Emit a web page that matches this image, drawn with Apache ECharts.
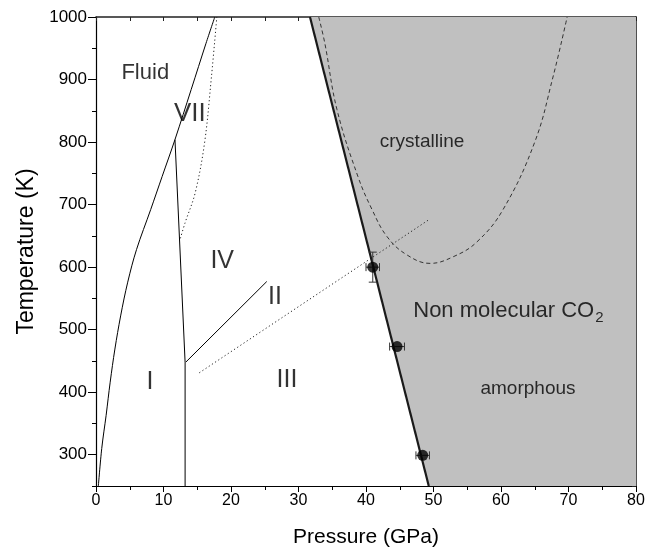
<!DOCTYPE html>
<html>
<head>
<meta charset="utf-8">
<script src="https://cdn.jsdelivr.net/npm/echarts@6/dist/echarts.min.js"></script>
<style>
  html, body { margin: 0; padding: 0; background: #fff; }
  #chart { width: 650px; height: 554px; }
</style>
</head>
<body>
<div id="chart"></div>
<script>
// phase boundaries, [pressure GPa, temperature K]
const meltingCurve = [[0.35, 250], [0.85, 310], [1.5, 363], [2.1, 416], [2.8, 469], [3.65, 522], [4.7, 576],
  [6.0, 628], [8.1, 692], [9.8, 745], [11.7, 804], [14.1, 884], [16.3, 958], [17.6, 1000]];
const lineIandIII = [[11.7, 804], [13.2, 448], [13.2, 250]];
const lineII = [[13.3, 448], [25.3, 577]];
const dottedIIIline = [[15.3, 431], [49.2, 675]];
const dottedVII = [[12.5, 646], [13.2, 671], [14.7, 719], [16.1, 800], [17.1, 904], [17.9, 1000]];
const nonMolecularBoundary = [[31.7, 1000], [49.3, 250]];
const crystallineDome = [[33.0, 1000], [33.9, 958], [35.7, 852], [38.8, 745], [40.9, 692], [43.1, 649],
  [46.0, 620], [49.5, 606], [53.0, 617], [56.4, 640], [60.3, 692], [65.0, 800], [67.7, 904], [69.8, 1000]];
// measured points: [P, T, P error, T error]
const measured = [[41.0, 600, 1.0, 24], [44.6, 473, 1.1, 0], [48.4, 299, 1.0, 0]];
// region labels
const regionLabels = [
  ['Fluid', 7.3, 910, 22],
  ['VII', 13.9, 845, 26],
  ['IV', 18.7, 609, 25],
  ['II', 26.5, 552, 25],
  ['I', 8.0, 416, 25],
  ['III', 28.3, 419, 25],
  ['crystalline', 48.3, 801, 19],
  ['amorphous', 64.0, 405, 19]
];
const yTicks = [300, 400, 500, 600, 700, 800, 900, 1000];

const FONT = '"Liberation Sans", Arial, Helvetica, sans-serif';
const chart = echarts.init(document.getElementById('chart'));

function line(data, width, type, color, smooth) {
  return {
    type: 'line', data: data, showSymbol: false, silent: true, z: 3,
    smooth: smooth || false,
    lineStyle: { color: color || '#000', width: width, type: type || 'solid' }
  };
}

const option = {
  animation: false,
  backgroundColor: '#fff',
  grid: { left: 96, right: 14, top: 17, bottom: 68 },
  xAxis: [
    {
      type: 'value', min: 0, max: 80, interval: 10, position: 'bottom',
      axisLine: { lineStyle: { color: '#000', width: 1.2 } },
      axisTick: { length: 6, lineStyle: { color: '#000' } },
      minorTick: { show: true, splitNumber: 2, length: 4, lineStyle: { color: '#000' } },
      splitLine: { show: false },
      axisLabel: { fontSize: 16, color: '#000', fontFamily: FONT, margin: 7 },
      name: 'Pressure (GPa)', nameLocation: 'middle', nameGap: 41,
      nameTextStyle: { fontSize: 21, color: '#000', fontFamily: FONT }
    },
    {
      type: 'value', min: 0, max: 80, interval: 5, position: 'top',
      axisLine: { lineStyle: { color: '#222', width: 1.6 } },
      axisTick: { inside: true, length: 4, lineStyle: { color: '#222' } },
      axisLabel: { show: false }, splitLine: { show: false }
    }
  ],
  yAxis: [
    {
      type: 'value', min: 250, max: 1000, position: 'left',
      axisLine: { lineStyle: { color: '#000', width: 1.2 } },
      axisTick: { length: 8, customValues: yTicks, lineStyle: { color: '#000' } },
      axisLabel: {
        fontSize: 17, color: '#000', fontFamily: FONT, margin: 9, customValues: yTicks,
        formatter: v => String(v)
      },
      splitLine: { show: false },
      name: 'Temperature (K)', nameLocation: 'middle', nameGap: 58, nameRotate: 90,
      nameTextStyle: { fontSize: 23, color: '#000', fontFamily: FONT }
    },
    {
      type: 'value', min: 250, max: 1000, interval: 50, position: 'left',
      axisLine: { show: false },
      axisTick: { length: 4, lineStyle: { color: '#000' } },
      axisLabel: { show: false }, splitLine: { show: false }
    },
    {
      type: 'value', min: 250, max: 1000, interval: 50, position: 'right',
      axisLine: { lineStyle: { color: '#222', width: 1.6 } },
      axisTick: { inside: true, length: 4, lineStyle: { color: '#222' } },
      axisLabel: { show: false }, splitLine: { show: false }
    }
  ],
  series: [
    {
      // grey non molecular region right of the boundary
      type: 'custom', silent: true, z: 1, clip: true,
      data: [0],
      renderItem: function (params, api) {
        const pts = [
          api.coord(nonMolecularBoundary[0]),
          api.coord(nonMolecularBoundary[1]),
          api.coord([80, 250]),
          api.coord([80, 1000])
        ];
        return { type: 'polygon', shape: { points: pts }, style: { fill: '#c0c0c0' } };
      }
    },
    line(meltingCurve, 1, 'solid', '#000', 0.35),
    line(lineIandIII, 1),
    line(lineII, 1),
    line(dottedIIIline, 1, [1.2, 2.6], '#222'),
    line(dottedVII, 1, [1.2, 2.6], '#222', 0.35),
    line(crystallineDome, 1, [4, 3], '#333', 0.4),
    line(nonMolecularBoundary, 2.2, 'solid', '#1a1a1a'),
    {
      // error bars
      type: 'custom', silent: true, z: 4,
      data: measured,
      renderItem: function (params, api) {
        const p = api.value(0), t = api.value(1), dp = api.value(2), dt = api.value(3);
        const a = api.coord([p - dp, t]), b = api.coord([p + dp, t]);
        const cap = 4;
        const st = { stroke: '#333', lineWidth: 1 };
        const kids = [
          { type: 'line', shape: { x1: a[0], y1: a[1], x2: b[0], y2: b[1] }, style: st },
          { type: 'line', shape: { x1: a[0], y1: a[1] - cap, x2: a[0], y2: a[1] + cap }, style: st },
          { type: 'line', shape: { x1: b[0], y1: b[1] - cap, x2: b[0], y2: b[1] + cap }, style: st }
        ];
        if (dt > 0) {
          const c = api.coord([p, t + dt]), d = api.coord([p, t - dt]);
          kids.push({ type: 'line', shape: { x1: c[0], y1: c[1], x2: d[0], y2: d[1] }, style: st });
          kids.push({ type: 'line', shape: { x1: c[0] - cap, y1: c[1], x2: c[0] + cap, y2: c[1] }, style: st });
          kids.push({ type: 'line', shape: { x1: d[0] - cap, y1: d[1], x2: d[0] + cap, y2: d[1] }, style: st });
        }
        return { type: 'group', children: kids };
      }
    },
    {
      type: 'scatter', silent: true, z: 5,
      data: measured.map(m => [m[0], m[1]]),
      symbol: 'circle', symbolSize: 11,
      itemStyle: { color: '#000' }
    },
    {
      // text labels of the phases
      type: 'scatter', silent: true, z: 6, symbolSize: 0,
      data: regionLabels.map(r => ({
        name: r[0], value: [r[1], r[2]],
        label: { fontSize: r[3] }
      })),
      label: {
        show: true, position: 'inside', formatter: '{b}',
        color: '#000', fontFamily: FONT
      }
    },
    {
      type: 'scatter', silent: true, z: 6, symbolSize: 0,
      data: [{ name: 'Non molecular CO', value: [47.0, 530] }],
      label: {
        show: true, position: 'right', distance: 0,
        formatter: '{a|Non molecular CO}{s|2}',
        rich: {
          a: { fontSize: 22, color: '#000', fontFamily: FONT },
          s: { fontSize: 15, color: '#000', fontFamily: FONT, padding: [14, 0, 0, 1] }
        }
      }
    }
  ]
};
chart.setOption(option);
</script>
</body>
</html>
